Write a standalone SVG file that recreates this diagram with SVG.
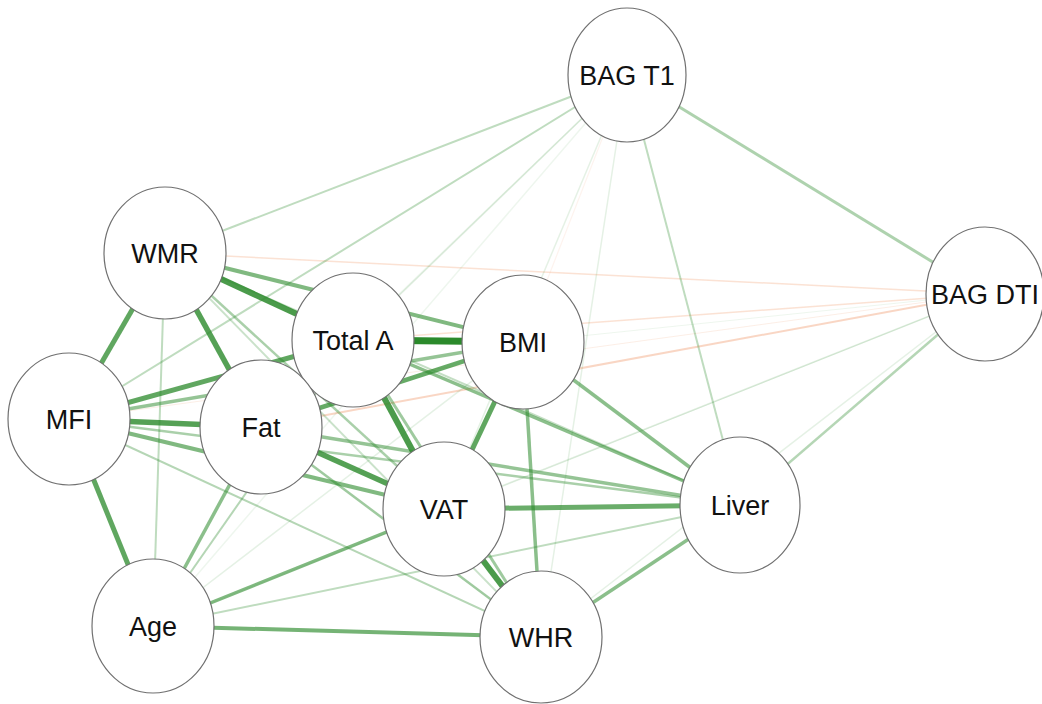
<svg xmlns="http://www.w3.org/2000/svg" width="1042" height="704" viewBox="0 0 1042 704">
<style>
.g{stroke:#2b8a2b;fill:none;stroke-linecap:butt}
.r{stroke:#ee8a55;fill:none}
.n ellipse{fill:#ffffff;stroke:#707070;stroke-width:1.2}
.n text{font-family:"Liberation Sans",Arial,sans-serif;font-size:27px;fill:#111;text-anchor:middle}
</style>
<rect width="1042" height="704" fill="#ffffff"/>
<g id="connectors">
<line class="g" x1="153" y1="626" x2="985" y2="294" stroke-width="1" stroke-opacity="0.08"/>
<line class="g" x1="523" y1="342" x2="985" y2="294" stroke-width="1" stroke-opacity="0.08"/>
<line class="r" x1="69" y1="419" x2="985" y2="294" stroke-width="1" stroke-opacity="0.15"/>
<line class="r" x1="523" y1="342" x2="627" y2="75" stroke-width="1.2" stroke-opacity="0.1"/>
<line class="r" x1="165" y1="253" x2="985" y2="294" stroke-width="1.5" stroke-opacity="0.25"/>
<line class="r" x1="353" y1="340" x2="985" y2="294" stroke-width="1.5" stroke-opacity="0.25"/>
<line class="r" x1="261" y1="427" x2="985" y2="294" stroke-width="2" stroke-opacity="0.35"/>
<line class="g" x1="444" y1="509" x2="985" y2="294" stroke-width="1.5" stroke-opacity="0.16"/>
<line class="g" x1="541" y1="637" x2="985" y2="294" stroke-width="1.5" stroke-opacity="0.12"/>
<line class="g" x1="261" y1="427" x2="627" y2="75" stroke-width="1.5" stroke-opacity="0.08"/>
<line class="g" x1="353" y1="340" x2="627" y2="75" stroke-width="1.5" stroke-opacity="0.14"/>
<line class="g" x1="444" y1="509" x2="627" y2="75" stroke-width="1.5" stroke-opacity="0.12"/>
<line class="g" x1="541" y1="637" x2="627" y2="75" stroke-width="1.5" stroke-opacity="0.12"/>
<line class="g" x1="153" y1="626" x2="627" y2="75" stroke-width="1.5" stroke-opacity="0.08"/>
<line class="g" x1="523" y1="342" x2="153" y2="626" stroke-width="1.5" stroke-opacity="0.12"/>
<line class="g" x1="165" y1="253" x2="541" y2="637" stroke-width="2" stroke-opacity="0.25"/>
<line class="g" x1="165" y1="253" x2="740" y2="505" stroke-width="2" stroke-opacity="0.28"/>
<line class="g" x1="153" y1="626" x2="740" y2="505" stroke-width="2" stroke-opacity="0.3"/>
<line class="g" x1="740" y1="505" x2="627" y2="75" stroke-width="2" stroke-opacity="0.3"/>
<line class="g" x1="69" y1="419" x2="627" y2="75" stroke-width="2" stroke-opacity="0.3"/>
<line class="g" x1="165" y1="253" x2="627" y2="75" stroke-width="2" stroke-opacity="0.3"/>
<line class="g" x1="165" y1="253" x2="153" y2="626" stroke-width="2" stroke-opacity="0.3"/>
<line class="g" x1="353" y1="340" x2="153" y2="626" stroke-width="2" stroke-opacity="0.35"/>
<line class="g" x1="69" y1="419" x2="541" y2="637" stroke-width="2" stroke-opacity="0.35"/>
<line class="g" x1="740" y1="505" x2="985" y2="294" stroke-width="2.5" stroke-opacity="0.35"/>
<line class="g" x1="627" y1="75" x2="985" y2="294" stroke-width="3" stroke-opacity="0.38"/>
<line class="g" x1="69" y1="419" x2="740" y2="505" stroke-width="2.5" stroke-opacity="0.4"/>
<line class="g" x1="261" y1="427" x2="541" y2="637" stroke-width="2.5" stroke-opacity="0.45"/>
<line class="g" x1="165" y1="253" x2="444" y2="509" stroke-width="2.5" stroke-opacity="0.4"/>
<line class="g" x1="353" y1="340" x2="541" y2="637" stroke-width="3" stroke-opacity="0.45"/>
<line class="g" x1="69" y1="419" x2="523" y2="342" stroke-width="3.5" stroke-opacity="0.5"/>
<line class="g" x1="541" y1="637" x2="740" y2="505" stroke-width="3.5" stroke-opacity="0.55"/>
<line class="g" x1="261" y1="427" x2="740" y2="505" stroke-width="3.5" stroke-opacity="0.5"/>
<line class="g" x1="353" y1="340" x2="740" y2="505" stroke-width="3.5" stroke-opacity="0.55"/>
<line class="g" x1="523" y1="342" x2="740" y2="505" stroke-width="3.5" stroke-opacity="0.55"/>
<line class="g" x1="523" y1="342" x2="541" y2="637" stroke-width="3.5" stroke-opacity="0.55"/>
<line class="g" x1="153" y1="626" x2="261" y2="427" stroke-width="3.5" stroke-opacity="0.55"/>
<line class="g" x1="153" y1="626" x2="444" y2="509" stroke-width="3.5" stroke-opacity="0.6"/>
<line class="g" x1="69" y1="419" x2="444" y2="509" stroke-width="4" stroke-opacity="0.6"/>
<line class="g" x1="153" y1="626" x2="541" y2="637" stroke-width="4" stroke-opacity="0.65"/>
<line class="g" x1="165" y1="253" x2="523" y2="342" stroke-width="4" stroke-opacity="0.6"/>
<line class="g" x1="353" y1="340" x2="261" y2="427" stroke-width="4" stroke-opacity="0.65"/>
<line class="g" x1="261" y1="427" x2="523" y2="342" stroke-width="4.5" stroke-opacity="0.72"/>
<line class="g" x1="444" y1="509" x2="740" y2="505" stroke-width="5" stroke-opacity="0.7"/>
<line class="g" x1="523" y1="342" x2="444" y2="509" stroke-width="5" stroke-opacity="0.75"/>
<line class="g" x1="69" y1="419" x2="353" y2="340" stroke-width="5" stroke-opacity="0.75"/>
<line class="g" x1="69" y1="419" x2="153" y2="626" stroke-width="5" stroke-opacity="0.75"/>
<line class="g" x1="165" y1="253" x2="69" y2="419" stroke-width="5" stroke-opacity="0.75"/>
<line class="g" x1="69" y1="419" x2="261" y2="427" stroke-width="5.5" stroke-opacity="0.8"/>
<line class="g" x1="261" y1="427" x2="444" y2="509" stroke-width="5.5" stroke-opacity="0.8"/>
<line class="g" x1="165" y1="253" x2="261" y2="427" stroke-width="5.5" stroke-opacity="0.8"/>
<line class="g" x1="444" y1="509" x2="541" y2="637" stroke-width="6" stroke-opacity="0.85"/>
<line class="g" x1="353" y1="340" x2="444" y2="509" stroke-width="6" stroke-opacity="0.85"/>
<line class="g" x1="165" y1="253" x2="353" y2="340" stroke-width="6" stroke-opacity="0.85"/>
<line class="g" x1="353" y1="340" x2="523" y2="342" stroke-width="7" stroke-opacity="1"/>
</g>
<g id="node-bag-t1" class="n"><ellipse cx="627" cy="75" rx="59" ry="67"/><text x="627" y="85">BAG T1</text></g>
<g id="node-bag-dti" class="n"><ellipse cx="985" cy="294" rx="59" ry="67"/><text x="985" y="304">BAG DTI</text></g>
<g id="node-wmr" class="n"><ellipse cx="165" cy="253" rx="61" ry="66"/><text x="165" y="263">WMR</text></g>
<g id="node-total-a" class="n"><ellipse cx="353" cy="340" rx="61" ry="67"/><text x="353" y="350">Total A</text></g>
<g id="node-bmi" class="n"><ellipse cx="523" cy="342" rx="61" ry="67"/><text x="523" y="352">BMI</text></g>
<g id="node-mfi" class="n"><ellipse cx="69" cy="419" rx="61" ry="66"/><text x="69" y="429">MFI</text></g>
<g id="node-fat" class="n"><ellipse cx="261" cy="427" rx="61" ry="67"/><text x="261" y="437">Fat</text></g>
<g id="node-vat" class="n"><ellipse cx="444" cy="509" rx="61" ry="67"/><text x="444" y="519">VAT</text></g>
<g id="node-liver" class="n"><ellipse cx="740" cy="505" rx="60" ry="68"/><text x="740" y="515">Liver</text></g>
<g id="node-age" class="n"><ellipse cx="153" cy="626" rx="61" ry="67"/><text x="153" y="636">Age</text></g>
<g id="node-whr" class="n"><ellipse cx="541" cy="637" rx="61" ry="66"/><text x="541" y="647">WHR</text></g>
</svg>
